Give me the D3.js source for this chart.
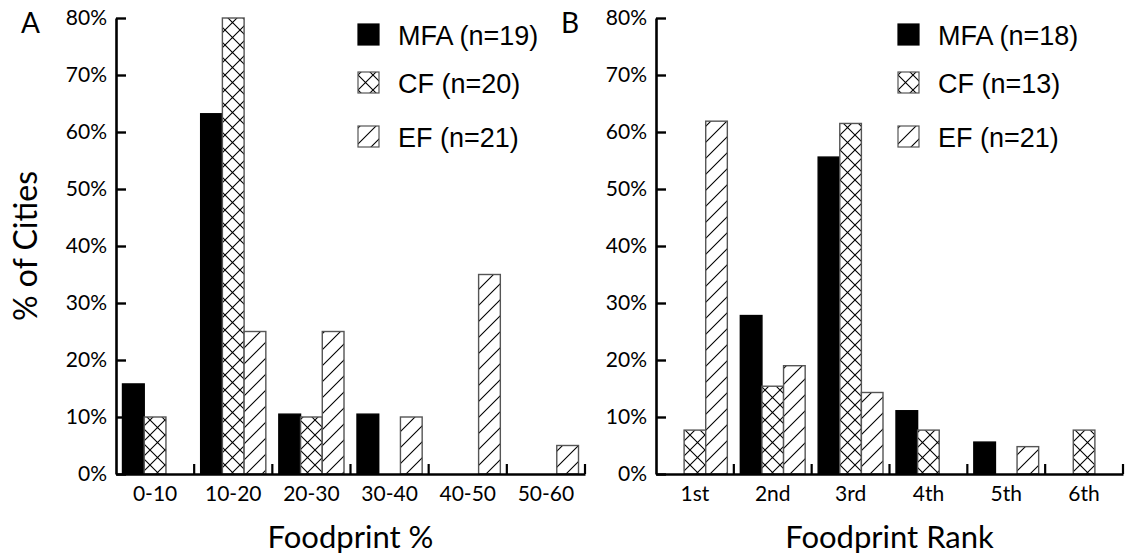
<!DOCTYPE html>
<html>
<head>
<meta charset="utf-8">
<script src="https://cdn.jsdelivr.net/npm/d3@7"></script>
<style>
  body { margin: 0; background: #fff; }
  svg { display: block; }
</style>
</head>
<body>
<svg id="chart" width="1126" height="559"></svg>
<script>
// Foodprint comparison: share of cities per bin / rank

const seriesKeys = ["MFA", "CF", "EF"];

// panel A
const binsA = ["0-10", "10-20", "20-30", "30-40", "40-50", "50-60"];
const mfaA = [15.8, 63.2, 10.5, 10.5, 0, 0];
const cfA = [10, 80, 10, 0, 0, 0];
const efA = [0, 25, 25, 10, 35, 5];
const legendA = ["MFA (n=19)", "CF (n=20)", "EF (n=21)"];

// panel B
const ranksB = ["1st", "2nd", "3rd", "4th", "5th", "6th"];
const mfaB = [0, 27.8, 55.6, 11.1, 5.6, 0];
const cfB = [7.7, 15.4, 61.5, 7.7, 0, 7.7];
const efB = [61.9, 19.0, 14.3, 0, 4.8, 0];
const legendB = ["MFA (n=18)", "CF (n=13)", "EF (n=21)"];

const yTicks = [0, 10, 20, 30, 40, 50, 60, 70, 80];

const svg = d3.select("#chart");
const gill = "Lato, 'Open Sans', sans-serif";
const helv = "'Liberation Sans', Arial, sans-serif";

// hatch patterns
const defs = svg.append("defs");
const cross = defs.append("pattern")
  .attr("id", "cross")
  .attr("patternUnits", "userSpaceOnUse")
  .attr("width", 15).attr("height", 15);
cross.append("rect").attr("width", 15).attr("height", 15).attr("fill", "#fff");
cross.append("path")
  .attr("d", "M0,0L15,15M15,0L0,15")
  .attr("stroke", "#000").attr("stroke-width", 1.1);

const diag = defs.append("pattern")
  .attr("id", "diag")
  .attr("patternUnits", "userSpaceOnUse")
  .attr("width", 16).attr("height", 16);
diag.append("rect").attr("width", 16).attr("height", 16).attr("fill", "#fff");
diag.append("path")
  .attr("d", "M0,16L16,0M-4,4L4,-4M12,20L20,12")
  .attr("stroke", "#000").attr("stroke-width", 1.1);

const fills = { MFA: "#000", CF: "url(#cross)", EF: "url(#diag)" };
const strokes = { MFA: "#000", CF: "#555", EF: "#555" };

const y = d3.scaleLinear().domain([0, 80]).range([474, 18]);

function drawPanel(opts) {
  const { cats, values, legend, left, right, letter, letterX, title } = opts;
  const g = svg.append("g");

  const x = d3.scaleBand().domain(cats).range([left, right]);
  const xs = d3.scaleBand().domain(seriesKeys)
    .range([6.5, x.bandwidth() - 6.5]);

  const rows = cats.flatMap((c, i) =>
    seriesKeys.map((k, j) => ({ cat: c, key: k, v: values[j][i] }))
  ).filter(d => d.v > 0);

  // bars
  g.selectAll("rect.bar")
    .data(rows)
    .join("rect")
    .attr("class", "bar")
    .attr("x", d => x(d.cat) + xs(d.key))
    .attr("y", d => y(d.v))
    .attr("width", xs.bandwidth())
    .attr("height", d => y(0) - y(d.v))
    .attr("fill", d => fills[d.key])
    .attr("stroke", d => strokes[d.key])
    .attr("stroke-width", 1.4);

  // y axis, ticks pointing inward
  const yAxis = g.append("g")
    .attr("transform", `translate(${left},0)`)
    .call(d3.axisLeft(y).tickValues(yTicks).tickFormat(d => d + "%")
      .tickSizeInner(-10).tickSizeOuter(0).tickPadding(9));
  yAxis.select(".domain").attr("stroke-width", 2.6);
  yAxis.selectAll(".tick line").attr("stroke-width", 2.4);
  yAxis.selectAll("text")
    .attr("font-family", gill).attr("font-size", 21).attr("fill", "#000");

  // x axis
  const xAxis = g.append("g")
    .attr("transform", `translate(0,${y(0)})`)
    .call(d3.axisBottom(x).tickSize(0).tickPadding(0));
  xAxis.select(".domain").attr("stroke-width", 2.6);
  xAxis.selectAll("text")
    .attr("y", 27).attr("dy", 0)
    .attr("font-family", gill).attr("font-size", 21).attr("fill", "#000");

  // small separators between categories
  g.selectAll("line.sep")
    .data(cats)
    .join("line")
    .attr("class", "sep")
    .attr("x1", d => x(d) + x.bandwidth())
    .attr("x2", d => x(d) + x.bandwidth())
    .attr("y1", y(0))
    .attr("y2", y(0) - 10)
    .attr("stroke", "#000")
    .attr("stroke-width", 2.2);

  // x title
  g.append("text")
    .attr("x", (left + right) / 2)
    .attr("y", 548)
    .attr("text-anchor", "middle")
    .attr("font-family", gill).attr("font-size", 31)
    .text(title);

  // panel letter
  g.append("text")
    .attr("x", letterX).attr("y", 33)
    .attr("font-family", gill).attr("font-size", 28)
    .text(letter);

  // legend
  const baselines = [45, 93, 147];
  const lg = g.append("g").attr("transform", `translate(${left + 242},0)`);
  seriesKeys.forEach((k, i) => {
    lg.append("rect")
      .attr("x", 0).attr("y", baselines[i] - 21)
      .attr("width", 21).attr("height", 21)
      .attr("fill", fills[k])
      .attr("stroke", strokes[k]).attr("stroke-width", 1.2);
    lg.append("text")
      .attr("x", 40).attr("y", baselines[i])
      .attr("font-family", helv).attr("font-size", 27)
      .text(legend[i]);
  });
}

drawPanel({
  cats: binsA, values: [mfaA, cfA, efA], legend: legendA,
  left: 116, right: 585, letter: "A", letterX: 21, title: "Foodprint %"
});
drawPanel({
  cats: ranksB, values: [mfaB, cfB, efB], legend: legendB,
  left: 656, right: 1123, letter: "B", letterX: 561, title: "Foodprint Rank"
});

// shared y title
svg.append("text")
  .attr("transform", "translate(37,246) rotate(-90)")
  .attr("text-anchor", "middle")
  .attr("font-family", gill).attr("font-size", 32)
  .text("% of Cities");
</script>
</body>
</html>
